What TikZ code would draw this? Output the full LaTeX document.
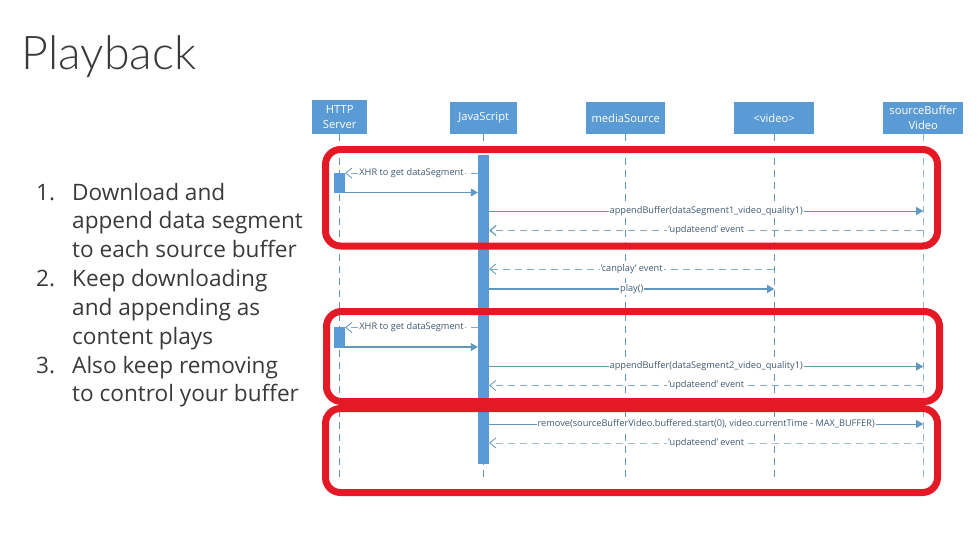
\documentclass[tikz,border=0pt]{standalone}
\usepackage{fontspec}
\usepackage{xcolor}
\usetikzlibrary{arrows.meta,positioning}
\setmainfont{Open Sans}
\newfontfamily\titlefont{Lato Light}
\definecolor{boxblue}{HTML}{5B9BD5}
\definecolor{lineblue}{HTML}{6496B8}
\definecolor{labelblue}{HTML}{3F5A72}
\definecolor{framered}{HTML}{E31A26}
\definecolor{listgrey}{HTML}{3A3A3A}
\tikzset{
	actorbox/.style={fill=boxblue,text=white,align=center,inner sep=0,anchor=north west,
		font=\fontsize{11.2}{15}\selectfont},
	lifeline/.style={lineblue,line width=.7pt,dash pattern=on 7pt off 5pt},
	activebar/.style={fill=boxblue,inner sep=0,minimum width=11pt,anchor=north},
	msglabel/.style={fill=white,text=labelblue,inner sep=1pt,font=\fontsize{9.2}{10}\selectfont},
	callmsg/.style={lineblue,line width=.8pt,-{Triangle[length=7pt,width=8pt,fill=boxblue]}},
	replymsg/.style={lineblue!80,line width=.8pt,dash pattern=on 7pt off 5pt,-{Straight Barb[length=6pt,width=10pt,lineblue]}},
	redframe/.style={framered,line width=7pt,rounded corners=15pt},
	listline/.style={text=listgrey,inner sep=0,anchor=base west,align=left,
		font=\fontsize{22.6}{28.8}\selectfont},
}
\begin{document}
\begin{tikzpicture}[x=1pt,y=-1pt]
	\useasboundingbox (0,0) rectangle (979,551);
	\node[anchor=base west,inner sep=0,text=listgrey,font=\titlefont\fontsize{46.5}{50}\selectfont] (title) at (21.5,70) {Playback};
	% the numbered list
	\node[listline] (num1) at (36,200) {1.};
	\node[listline] (num2) at (36,286.5) {2.};
	\node[listline] (num3) at (36,373) {3.};
	\node[listline,anchor=base west] (item1) at (72,200) {Download and};
	\node[listline] (item1b) at (72,228.8) {append data segment};
	\node[listline] (item1c) at (72,257.6) {to each source buffer};
	\node[listline] (item2) at (72,286.5) {Keep downloading};
	\node[listline] (item2b) at (72,315.3) {and appending as};
	\node[listline] (item2c) at (72,344.1) {content plays};
	\node[listline] (item3) at (72,373) {Also keep removing};
	\node[listline] (item3b) at (72,401.8) {to control your buffer};
	% actors
	\node[actorbox,minimum width=55pt,minimum height=34pt] (server) at (312,100) {HTTP\\Server};
	\node[actorbox,minimum width=67pt,minimum height=32pt] (js) at (450,102) {JavaScript};
	\node[actorbox,minimum width=79pt,minimum height=32pt] (source) at (586,102) {mediaSource};
	\node[actorbox,minimum width=80pt,minimum height=32pt] (video) at (734,102) {<video>};
	\node[actorbox,minimum width=80pt,minimum height=32pt] (buffer) at (883,102) {sourceBuffer\\Video};
	\coordinate (bottom) at (0,478);
	\draw[lifeline] (server.south) -- (server.south |- bottom);
	\draw[lifeline] (js.south) -- (js.south |- bottom);
	\draw[lifeline] (source.south) -- (source.south |- bottom);
	\draw[lifeline,line width=1.2pt] (video.south) -- (video.south |- bottom);
	\draw[lifeline,lineblue!70] (buffer.south) -- (buffer.south |- bottom);
	\node[activebar,minimum height=309pt] (jsbar) at (483.5,155) {};
	\node[activebar,minimum height=20pt] (fetcha) at (339.5,173) {};
	\node[activebar,minimum height=21pt] (fetchb) at (339.5,327) {};
	% rows of the messages
	\foreach \rowname/\rowy in {xhra/173,geta/192.5,appa/211,enda/230.5,can/269,play/289,xhrb/327.5,getb/347,appb/366.5,endb/385.5,rem/424,endc/443}
		\coordinate (\rowname) at (0,\rowy);
	\draw[replymsg] (jsbar.west |- xhra) -- node[msglabel]{XHR to get dataSegment} (fetcha.east |- xhra);
	\draw[callmsg] (fetcha.east |- geta) -- (jsbar.west |- geta);
	\draw[callmsg] (jsbar.east |- appa) -- node[msglabel]{appendBuffer(dataSegment1\_video\_quality1)} (buffer.south |- appa);
	\draw[replymsg,line width=1.2pt] (buffer.south |- enda) -- node[msglabel]{'updateend' event} (jsbar.east |- enda);
	\draw[replymsg] (video.south |- can) -- node[msglabel]{'canplay' event} (jsbar.east |- can);
	\draw[callmsg,line width=1.2pt] (jsbar.east |- play) -- node[msglabel]{play()} (video.south |- play);
	\draw[replymsg] (jsbar.west |- xhrb) -- node[msglabel]{XHR to get dataSegment} (fetchb.east |- xhrb);
	\draw[callmsg,line width=1.2pt] (fetchb.east |- getb) -- (jsbar.west |- getb);
	\draw[callmsg] (jsbar.east |- appb) -- node[msglabel]{appendBuffer(dataSegment2\_video\_quality1)} (buffer.south |- appb);
	\draw[replymsg] (buffer.south |- endb) -- node[msglabel]{'updateend' event} (jsbar.east |- endb);
	\draw[callmsg] (jsbar.east |- rem) -- node[msglabel]{remove(sourceBufferVideo.buffered.start(0), video.currentTime - MAX\_BUFFER)} (buffer.south |- rem);
	\draw[replymsg,lineblue!60] (buffer.south |- endc) -- node[msglabel]{'updateend' event} (jsbar.east |- endc);
	% red frames on top
	\draw[redframe] (325.5,149.5) rectangle (937.5,246);
	\draw[redframe] (326.5,311.5) rectangle (939.5,401.5);
	\draw[redframe] (325.5,408.5) rectangle (937.5,492.5);
\end{tikzpicture}
\end{document}
